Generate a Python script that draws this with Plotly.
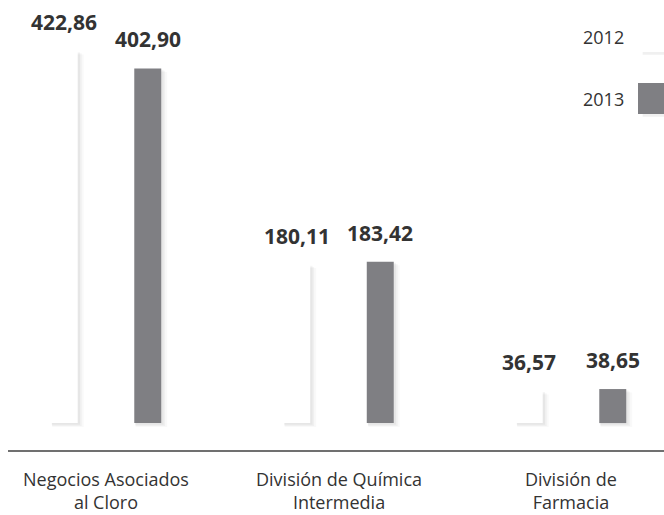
import plotly.graph_objects as go

categories = ["Negocios Asociados<br>al Cloro", "División de Química<br>Intermedia", "División de<br>Farmacia"]
series_names = ["2012", "2013"]
values_2012 = [422.86, 180.11, 36.57]
values_2013 = [402.90, 183.42, 38.65]
value_labels_2012 = ["422,86", "180,11", "36,57"]
value_labels_2013 = ["402,90", "183,42", "38,65"]

colors = {"2012": "#ffffff", "2013": "#7f7f83"}
BAR_W = 0.116
OFFSETS = {"2012": -0.2376, "2013": 0.1216}
xidx = list(range(len(categories)))

fig = go.Figure()

# soft shadows
for name, vals in (("2012", values_2012), ("2013", values_2013)):
    for k, (dx, dw, a) in enumerate(((0.014, 0.020, 0.025), (0.009, 0.012, 0.035), (0.005, 0.006, 0.04))):
        fig.add_trace(go.Bar(
            x=xidx, y=[v + 0.5 for v in vals], base=-4.5 + 1.3 * k,
            offset=OFFSETS[name] + dx - dw / 2 + 0.002, width=BAR_W + dw,
            marker=dict(color=f"rgba(0,0,0,{a})", line=dict(width=0)),
            showlegend=False, hoverinfo="skip"))

for name, vals in (("2012", values_2012), ("2013", values_2013)):
    fig.add_trace(go.Bar(
        x=xidx, y=vals, name=name, offset=OFFSETS[name], width=BAR_W,
        marker=dict(color=colors[name], line=dict(width=0)), showlegend=False))

for name, vals, labs in (("2012", values_2012, value_labels_2012), ("2013", values_2013, value_labels_2013)):
    for i, (v, t) in enumerate(zip(vals, labs)):
        fig.add_annotation(x=i + OFFSETS[name] + BAR_W / 2, y=v, text=t, showarrow=False,
                           xref="x", yref="y", yanchor="bottom", yshift=13,
                           font=dict(family="Open Sans", size=21, color="#333333", weight="bold"))

for i, c in enumerate(categories):
    fig.add_annotation(x=i, y=0, xref="x", yref="paper", text=c, showarrow=False,
                       yanchor="top", yshift=-16, borderpad=0,
                       font=dict(family="Open Sans", size=18, color="#333333"))

# legend
for j, name in enumerate(series_names):
    y0 = 1 - (21 + 62 * j) / 450
    y1 = 1 - (52 + 62 * j) / 450
    fig.add_shape(type="rect", xref="paper", yref="paper", x0=(640 - 8) / 656 + 0.004, x1=1.02,
                  y0=y1 - 0.006, y1=y0 - 0.006, fillcolor="rgba(0,0,0,0.06)", line=dict(width=0), layer="below")
    fig.add_shape(type="rect", xref="paper", yref="paper", x0=(638 - 8) / 656, x1=1.02,
                  y0=y1, y1=y0, fillcolor=colors[name], line=dict(width=0))
    fig.add_annotation(xref="paper", yref="paper", x=(626 - 8) / 656, y=(y0 + y1) / 2, text=name,
                       showarrow=False, xanchor="right", yanchor="middle",
                       font=dict(family="Open Sans", size=18, color="#333333"))

fig.update_layout(
    width=664, height=515, barmode="overlay",
    margin=dict(l=8, r=0, t=0, b=65),
    paper_bgcolor="white", plot_bgcolor="white",
    xaxis=dict(range=[-0.4215, 2.4], showgrid=False, zeroline=False, showticklabels=False,
               showline=True, linecolor="#707070", linewidth=1.5, ticks=""),
    yaxis=dict(range=[-30.6, 480.7], visible=False),
    showlegend=False,
)
fig.write_html("out.html", config={"displayModeBar": False},
               post_script="document.body.style.margin='0';document.body.style.overflow='hidden';")
